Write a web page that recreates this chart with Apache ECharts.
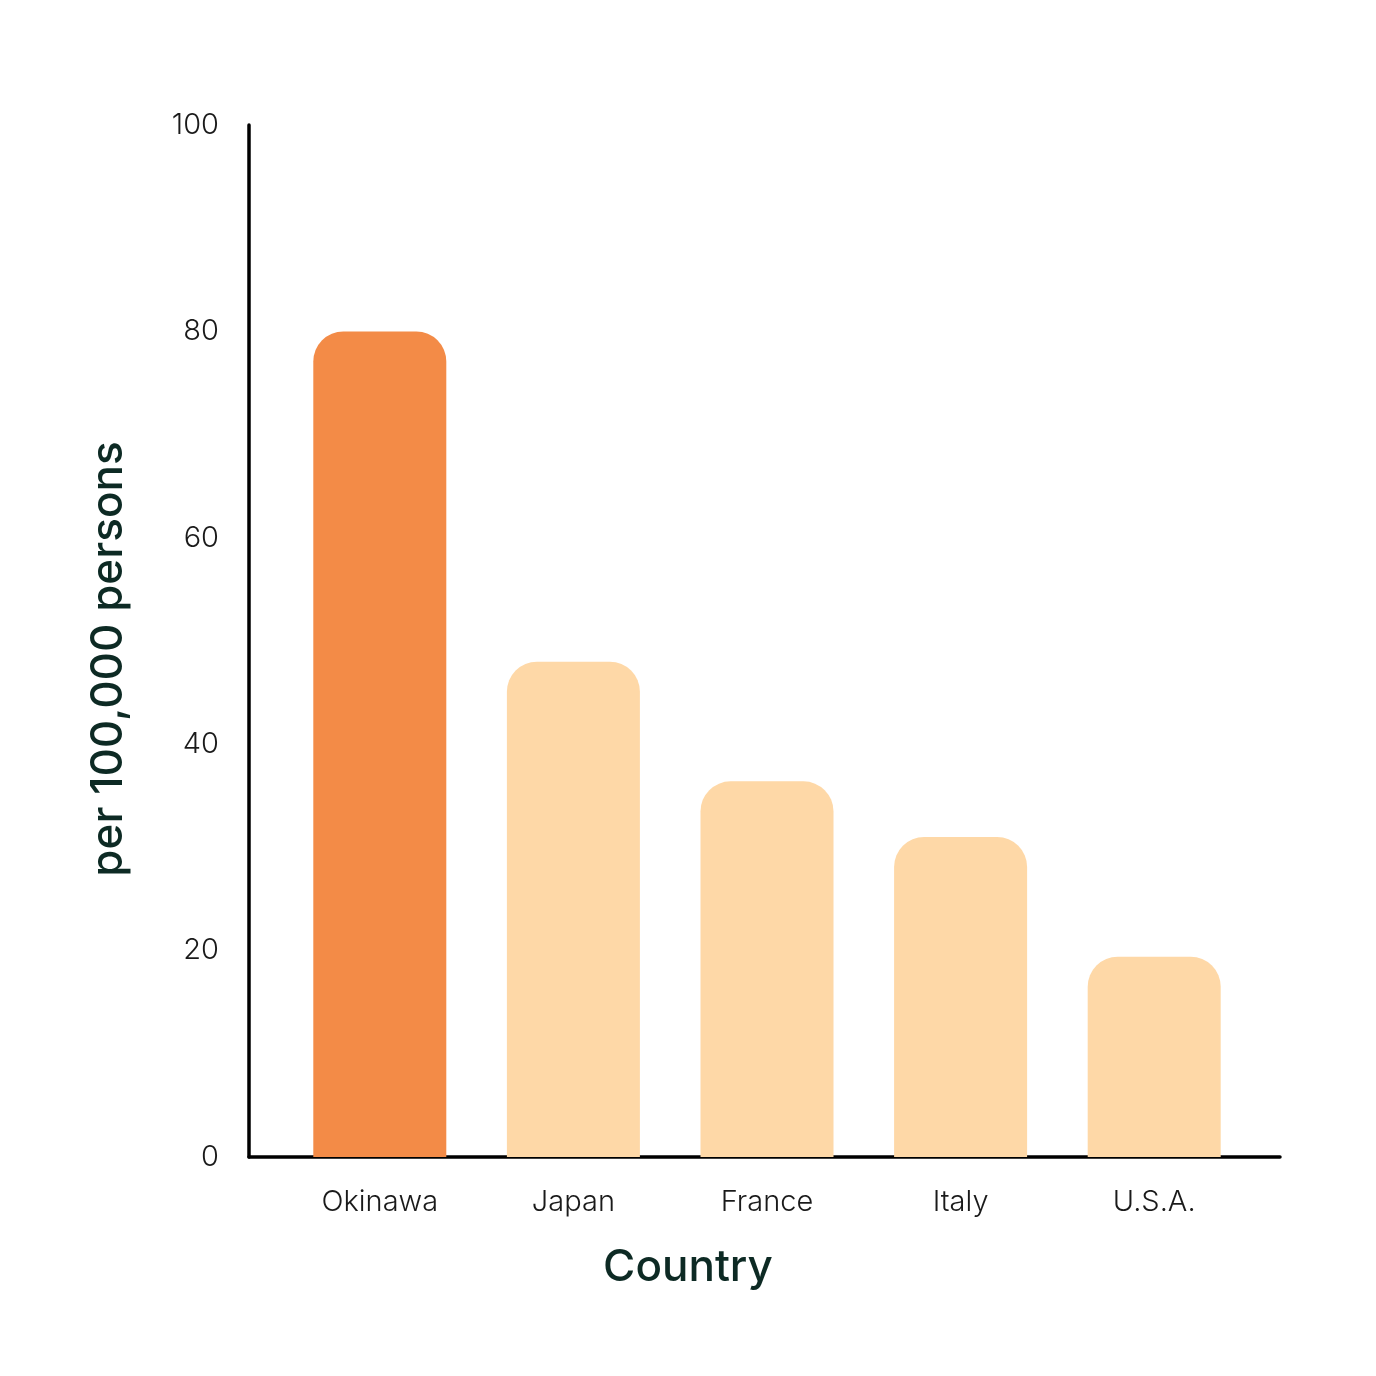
<!DOCTYPE html>
<html>
<head>
<meta charset="utf-8">
<script src="https://cdn.jsdelivr.net/npm/echarts@6/dist/echarts.min.js"></script>
<style>
  html, body { margin: 0; padding: 0; background: #fff; }
  #chart { width: 1376px; height: 1376px; }
</style>
</head>
<body>
<div id="chart"></div>
<script>
var countries = ['Okinawa', 'Japan', 'France', 'Italy', 'U.S.A.'];
var centenarians = [80, 48, 36.4, 31, 19.4];
var yTicks = [0, 20, 40, 60, 80, 100];

var highlight = 'Okinawa';
var font = 'Inter, "Noto Sans", sans-serif';

var chart = echarts.init(document.getElementById('chart'));

var option = {
    backgroundColor: '#ffffff',
    title: {
        text: 'Country',
        left: 'center',
        top: 1241,
        textStyle: { fontFamily: font, fontSize: 44, fontWeight: 500, color: '#0d2a24' }
    },
    grid: [
        // bars
        { left: 283, right: 125, top: 125, bottom: 219 },
        // axis frame
        { left: 249, right: 96, top: 125, bottom: 219 }
    ],
    xAxis: [
        {
            type: 'category',
            gridIndex: 0,
            data: countries,
            axisLine: { show: false },
            axisTick: { show: false },
            axisLabel: { margin: 31, fontFamily: font, fontSize: 29, fontWeight: 300, color: '#1a1a1a' }
        },
        {
            type: 'value',
            gridIndex: 1,
            min: 0,
            max: 1,
            axisLine: { show: true, lineStyle: { color: '#000', width: 3.5 } },
            axisTick: { show: false },
            axisLabel: { show: false },
            splitLine: { show: false }
        }
    ],
    yAxis: [
        {
            type: 'value',
            gridIndex: 0,
            min: 0,
            max: 100,
            interval: 20,
            show: false
        },
        {
            type: 'value',
            gridIndex: 1,
            min: yTicks[0],
            max: yTicks[yTicks.length - 1],
            interval: yTicks[1] - yTicks[0],
            name: 'per 100,000 persons',
            nameLocation: 'middle',
            nameGap: 118,
            nameTextStyle: { fontFamily: font, fontSize: 44, fontWeight: 500, color: '#0d2a24', padding: [0, 36, 0, 0] },
            axisLine: { show: true, lineStyle: { color: '#000', width: 3.5 } },
            axisTick: { show: false },
            axisLabel: { margin: 30, fontFamily: font, fontSize: 29, fontWeight: 300, color: '#1a1a1a' },
            splitLine: { show: false }
        }
    ],
    series: [
        {
            type: 'bar',
            xAxisIndex: 0,
            yAxisIndex: 0,
            data: centenarians,
            barWidth: 133,
            itemStyle: {
                borderRadius: [30, 30, 0, 0],
                color: function (p) {
                    return countries[p.dataIndex] === highlight ? '#f38b47' : '#fed8a7';
                }
            }
        }
    ]
};

chart.setOption(option);

window.onresize = chart.resize;
</script>
</body>
</html>
